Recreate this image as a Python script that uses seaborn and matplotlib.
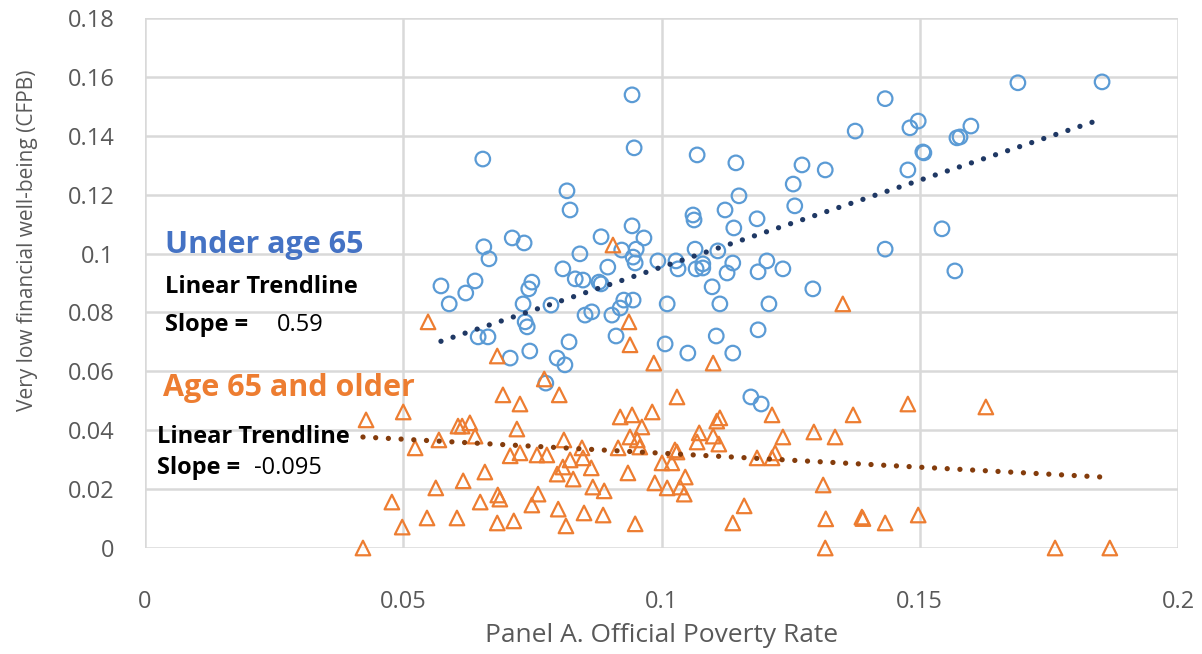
import numpy as np
import pandas as pd
import matplotlib
matplotlib.use("Agg")
import matplotlib.pyplot as plt
import seaborn as sns

# ---- data ----
under65_x = [0.0943, 0.0947, 0.0654, 0.0817, 0.0823, 0.0943, 0.0711, 0.0734, 0.0656, 0.0666,
             0.0883, 0.0923, 0.0951, 0.0945, 0.0949, 0.0842, 0.0809, 0.0896, 0.0833, 0.0848,
             0.0879, 0.0883, 0.0573, 0.0639, 0.0621, 0.0589, 0.0749, 0.0743, 0.0732,
             0.0786, 0.0736, 0.0740, 0.0645, 0.0664, 0.0707, 0.0745, 0.0821, 0.0798, 0.0813,
             0.0852, 0.0865, 0.0904, 0.0920, 0.0927, 0.0945, 0.0912, 0.0776,
             0.1069, 0.1144, 0.1272, 0.1317, 0.1255, 0.1150, 0.1258, 0.1123, 0.1061, 0.1063,
             0.1185, 0.1140, 0.0966, 0.1065, 0.1109, 0.0993, 0.1028, 0.1032, 0.1067, 0.1080,
             0.1080, 0.1138, 0.1127, 0.1204, 0.1187, 0.1235, 0.1433, 0.1098, 0.1293, 0.1011,
             0.1113, 0.1208, 0.1187, 0.1106, 0.1007, 0.1051, 0.1138, 0.1173, 0.1193,
             0.1690, 0.1853, 0.1433, 0.1375, 0.1481, 0.1497, 0.1599, 0.1572, 0.1578, 0.1506,
             0.1508, 0.1477, 0.1543, 0.1568]
under65_y = [0.1539, 0.1359, 0.1321, 0.1213, 0.1148, 0.1094, 0.1053, 0.1036, 0.1023, 0.0982,
             0.1057, 0.1012, 0.1015, 0.0988, 0.0968, 0.0999, 0.0948, 0.0954, 0.0914, 0.0910,
             0.0903, 0.0897, 0.0890, 0.0907, 0.0866, 0.0829, 0.0903, 0.0880, 0.0829,
             0.0825, 0.0768, 0.0751, 0.0717, 0.0717, 0.0645, 0.0669, 0.0700, 0.0645, 0.0622,
             0.0791, 0.0802, 0.0791, 0.0815, 0.0842, 0.0842, 0.0720, 0.0560,
             0.1335, 0.1308, 0.1301, 0.1284, 0.1236, 0.1196, 0.1162, 0.1148, 0.1131, 0.1114,
             0.1118, 0.1087, 0.1053, 0.1015, 0.1009, 0.0975, 0.0975, 0.0948, 0.0948, 0.0965,
             0.0951, 0.0968, 0.0934, 0.0975, 0.0938, 0.0948, 0.1015, 0.0887, 0.0880, 0.0829,
             0.0829, 0.0829, 0.0741, 0.0720, 0.0693, 0.0662, 0.0662, 0.0513, 0.0489,
             0.1580, 0.1583, 0.1526, 0.1416, 0.1427, 0.1450, 0.1433, 0.1393, 0.1396, 0.1345,
             0.1342, 0.1284, 0.1084, 0.0941]

older_x = [0.0906, 0.0548, 0.0682, 0.0773, 0.0693, 0.0726, 0.0802, 0.0937, 0.0939, 0.1351,
           0.0985, 0.1100, 0.1030, 0.1477, 0.1628,
           0.0428, 0.0500, 0.0606, 0.0614, 0.0629, 0.0639, 0.0569, 0.0523, 0.0720, 0.0707,
           0.0726, 0.0759, 0.0778, 0.0811, 0.0846, 0.0848, 0.0823, 0.0809, 0.0798, 0.0829,
           0.0864, 0.0867, 0.0889, 0.0920, 0.0943, 0.0939, 0.0953, 0.0916, 0.0935, 0.0658,
           0.0616, 0.0563, 0.0478, 0.0649, 0.0683, 0.0687, 0.0761, 0.0749, 0.0800, 0.0498,
           0.0546, 0.0604, 0.0682, 0.0714, 0.0815, 0.0850, 0.0887, 0.0949, 0.0422,
           0.0982, 0.0962, 0.0958, 0.0987, 0.1011, 0.1001, 0.1020, 0.1026, 0.1030, 0.1046,
           0.1036, 0.1044, 0.1107, 0.1113, 0.1073, 0.1069, 0.1100, 0.1111, 0.1214, 0.1235,
           0.1185, 0.1214, 0.1220, 0.1295, 0.1336, 0.1371, 0.1313, 0.1160, 0.1138, 0.1318,
           0.1388, 0.1390, 0.1433, 0.1497, 0.1317, 0.1762, 0.1868]
older_y = [0.1029, 0.0768, 0.0652, 0.0574, 0.0520, 0.0489, 0.0520, 0.0768, 0.0690, 0.0829,
           0.0628, 0.0628, 0.0513, 0.0489, 0.0479,
           0.0435, 0.0462, 0.0414, 0.0414, 0.0425, 0.0380, 0.0367, 0.0340, 0.0404, 0.0313,
           0.0323, 0.0316, 0.0316, 0.0367, 0.0340, 0.0306, 0.0299, 0.0275, 0.0251, 0.0234,
           0.0272, 0.0207, 0.0194, 0.0445, 0.0452, 0.0377, 0.0367, 0.0340, 0.0255, 0.0258,
           0.0228, 0.0204, 0.0156, 0.0156, 0.0180, 0.0166, 0.0183, 0.0146, 0.0132, 0.0071,
           0.0102, 0.0102, 0.0085, 0.0092, 0.0075, 0.0119, 0.0112, 0.0082, 0.0000,
           0.0462, 0.0411, 0.0343, 0.0221, 0.0204, 0.0289, 0.0289, 0.0333, 0.0326, 0.0241,
           0.0207, 0.0183, 0.0431, 0.0442, 0.0391, 0.0360, 0.0380, 0.0353, 0.0452, 0.0377,
           0.0306, 0.0306, 0.0323, 0.0394, 0.0377, 0.0452, 0.0214, 0.0143, 0.0085, 0.0099,
           0.0105, 0.0100, 0.0085, 0.0112, 0.0000, 0.0000, 0.0000]

# linear trendlines as labelled in the chart (slope) and read intercepts
under65_trend = {"slope": 0.59, "intercept": 0.0364}
older_trend = {"slope": -0.095, "intercept": 0.0417}

x_ticks = [0, 0.05, 0.1, 0.15, 0.2]
x_tick_labels = ["0", "0.05", "0.1", "0.15", "0.2"]
y_ticks = [0, 0.02, 0.04, 0.06, 0.08, 0.1, 0.12, 0.14, 0.16, 0.18]
y_tick_labels = ["0", "0.02", "0.04", "0.06", "0.08", "0.1", "0.12", "0.14", "0.16", "0.18"]

BLUE = "#5b9bd5"
ORANGE = "#ed7d31"
NAVY = "#1f3864"
BROWN = "#843c0c"
TXT_BLUE = "#4472c4"
GRID = "#d9d9d9"
TICK = "#595959"

sns.set_style("white")
plt.rcParams["font.family"] = ["Open Sans", "DejaVu Sans"]

df_u = pd.DataFrame({"x": under65_x, "y": under65_y})
df_o = pd.DataFrame({"x": older_x, "y": older_y})


def trend_frame(xs, tr):
    xr = np.array([min(xs), max(xs)])
    return pd.DataFrame({"x": xr, "y": tr["intercept"] + tr["slope"] * xr})


fig = plt.figure(figsize=(12.02, 6.54), dpi=100)
ax = fig.add_axes([145 / 1202, 1 - 548 / 654, (1178 - 145) / 1202, (548 - 18) / 654])

dot = (0, (0.01, 2.4))
sns.lineplot(data=trend_frame(under65_x, under65_trend), x="x", y="y", ax=ax, color=NAVY,
             lw=3.8, linestyle=dot, dash_capstyle="round", zorder=4)
sns.lineplot(data=trend_frame(older_x, older_trend), x="x", y="y", ax=ax, color=BROWN,
             lw=3.8, linestyle=dot, dash_capstyle="round", zorder=4)

sns.scatterplot(data=df_u, x="x", y="y", ax=ax, marker="o", s=110,
                facecolor="none", edgecolor=BLUE, linewidth=1.6, zorder=3, clip_on=False)
sns.scatterplot(data=df_o, x="x", y="y", ax=ax, marker="^", s=110,
                facecolor="none", edgecolor=ORANGE, linewidth=1.6, zorder=3, clip_on=False)

ax.set_xlim(0, 0.2)
ax.set_ylim(0, 0.18)
ax.set_xticks(x_ticks)
ax.set_xticklabels(x_tick_labels)
ax.set_yticks(y_ticks)
ax.set_yticklabels(y_tick_labels)
ax.tick_params(axis="both", length=0, colors=TICK, labelsize=17)
ax.tick_params(axis="x", pad=30)
ax.tick_params(axis="y", pad=22)
ax.grid(True, color=GRID, lw=1.8)
ax.set_axisbelow(True)
for s in ax.spines.values():
    s.set_visible(False)

ax.set_xlabel("Panel A. Official Poverty Rate", fontsize=19, color=TICK, va="center")
ax.xaxis.set_label_coords(0.5, -(636 - 548) / 530, transform=ax.transAxes)
ax.set_ylabel("Very low financial well-being (CFPB)", fontsize=15, color=TICK, va="center")
ax.yaxis.set_label_coords(-(145 - 28) / 1033, (548 - 240) / 530, transform=ax.transAxes)

ax.text(0.0039, 0.1029, "Under age 65", color=TXT_BLUE, fontsize=22, fontweight="bold",
        ha="left", va="center")
ax.text(0.0039, 0.0887, "Linear Trendline", color="black", fontsize=17, fontweight="bold",
        ha="left", va="center")
ax.text(0.0039, 0.0757, "Slope =", color="black", fontsize=17, fontweight="bold",
        ha="left", va="center")
ax.text(0.0256, 0.0757, "0.59", color="black", fontsize=17, ha="left", va="center")
ax.text(0.0035, 0.0543, "Age 65 and older", color=ORANGE, fontsize=22, fontweight="bold",
        ha="left", va="center")
ax.text(0.0023, 0.0377, "Linear Trendline", color="black", fontsize=17, fontweight="bold",
        ha="left", va="center")
ax.text(0.0023, 0.0272, "Slope =", color="black", fontsize=17, fontweight="bold",
        ha="left", va="center")
ax.text(0.0212, 0.0272, "-0.095", color="black", fontsize=17, ha="left", va="center")

fig.savefig("out.png", dpi=100)
